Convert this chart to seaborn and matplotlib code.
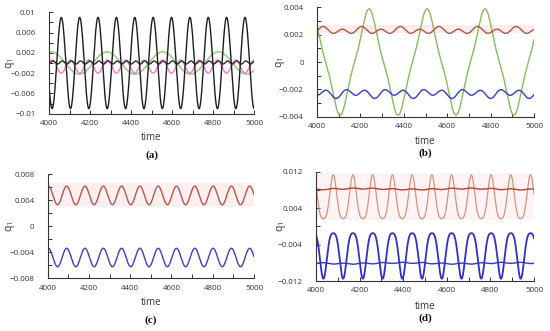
import numpy as np
import pandas as pd
import matplotlib
matplotlib.use("Agg")
import matplotlib.pyplot as plt
import seaborn as sns
from matplotlib.ticker import FixedLocator, FuncFormatter

# ---------------- data ----------------
# every curve: mean + sum_k amp_k * cos(2*pi*(t - t0_k)/period_k)
time_start, time_end = 4000, 5000
x_major = [4000, 4200, 4400, 4600, 4800, 5000]
x_minor = [4100, 4300, 4500, 4700, 4900]

# panel (a)
a_names = ["green", "pink", "dark", "black"]
a_mean = [0.0, -0.0007, 0.0001, 0.0]
a_amp = [[0.0022], [0.0013], [0.0003], [0.009]]
a_period = [[272], [89.6], [44.8], [89.6]]
a_t0 = [[4011], [4015], [4020], [4060]]
a_yticks = [-0.01, -0.006, -0.002, 0.002, 0.006, 0.01]
a_yminor = [-0.008, -0.004, 0.0, 0.004, 0.008]

# panel (b)
b_names = ["green", "red", "blue"]
b_mean = [0.0, 0.0023, -0.0023]
b_amp = [[0.0035, 0.00039], [0.0002, 0.0001], [0.00025, 0.00012]]
b_period = [[267, 89], [89, 178], [89, 178]]
b_t0 = [[4240, 4240], [4028, 4028], [4133, 4172]]
b_yticks = [-0.004, -0.002, 0.0, 0.002, 0.004]
b_yminor = [-0.003, -0.001, 0.001, 0.003]

# panel (c)
c_names = ["red", "blue"]
c_mean = [0.00475, -0.0048]
c_amp = [[0.00143], [0.00142]]
c_period = [[88.7], [88.7]]
c_t0 = [[4092], [4092]]
c_yticks = [-0.008, -0.004, 0.0, 0.004, 0.008]
c_yminor = [-0.006, -0.002, 0.002, 0.006]

# panel (d)
d_names = ["orange", "red", "blue", "blueflat"]
d_mean = [0.00554, 0.0082, -0.0055, -0.0081]
d_amp = [[0.0048, 0.00096], [0.00012, 0.0001], [-0.005, -0.001], [0.00012, 0.0001]]
d_period = [[90.5, 45.25], [90.5, 500], [90.5, 45.25], [90.5, 500]]
d_t0 = [[4079, 4079], [4079, 4200], [4034, 4034], [4034, 4400]]
d_yticks = [-0.012, -0.004, 0.004, 0.012]
d_yminor = [-0.008, 0.0, 0.008]

# ---------------- styles ----------------
a_colors = {"green": "#a6ca8e", "pink": "#f07ac8", "dark": "#2a2a2a", "black": "#1e1e1e"}
a_lw = {"green": 1.2, "pink": 1.0, "dark": 1.0, "black": 1.0}
b_colors = {"green": "#86bd5c", "red": "#a85a3e", "blue": "#3a3acc"}
b_lw = {"green": 1.0, "red": 1.0, "blue": 1.0}
c_colors = {"red": "#b05a42", "blue": "#3c3cd0"}
c_lw = {"red": 1.0, "blue": 1.0}
d_colors = {"orange": "#d4937a", "red": "#bf3e2e", "blue": "#2f2fcc", "blueflat": "#3535cc"}
d_lw = {"orange": 0.9, "red": 1.0, "blue": 1.3, "blueflat": 1.0}

sns.set_theme(style="white")
plt.rcParams["font.family"] = ["Open Sans", "DejaVu Sans"]
plt.rcParams["mathtext.default"] = "regular"
plt.rcParams["axes.unicode_minus"] = True

fig = plt.figure(figsize=(5.5, 3.31), dpi=100)

t = np.linspace(time_start, time_end, 3001)


def build_frame(names, means, amps, periods, t0s):
    rows = []
    for n, m, A, P, T in zip(names, means, amps, periods, t0s):
        y = np.full_like(t, m)
        for a, p, t0 in zip(A, P, T):
            y = y + a * np.cos(2 * np.pi * (t - t0) / p)
        rows.append(pd.DataFrame({"time": t, "q": y, "series": n}))
    return pd.concat(rows, ignore_index=True)


def fmt(v, pos):
    s = f"{round(v, 6):g}"
    return s.replace("-", "\u2212")


def style_axes(ax, ylim, yt, ym, ylab_x, xlab_y, tag, tag_y):
    ax.set_xlim(time_start, time_end)
    ax.set_ylim(*ylim)
    ax.xaxis.set_major_locator(FixedLocator(x_major))
    ax.xaxis.set_minor_locator(FixedLocator(x_minor))
    ax.yaxis.set_major_locator(FixedLocator(yt))
    ax.yaxis.set_minor_locator(FixedLocator(ym))
    ax.yaxis.set_major_formatter(FuncFormatter(fmt))
    ax.xaxis.set_major_formatter(FuncFormatter(lambda v, p: f"{int(round(v))}"))
    for s in ["top", "right"]:
        ax.spines[s].set_visible(False)
    for s in ["left", "bottom"]:
        ax.spines[s].set_color("#333333")
        ax.spines[s].set_linewidth(0.8)
    ax.tick_params(axis="both", which="major", direction="in", length=3.2,
                   width=0.7, color="#333333", labelsize=5.8, labelcolor="#333333")
    ax.tick_params(axis="both", which="minor", direction="in", length=3.0,
                   width=0.7, color="#333333")
    ax.tick_params(axis="y", which="major", pad=9.5, left=True)
    ax.tick_params(axis="y", which="minor", left=True)
    ax.tick_params(axis="x", which="major", pad=4.5, bottom=True)
    ax.tick_params(axis="x", which="minor", bottom=True)
    ax.set_xlabel("time", fontsize=7, color="#333333", va="center")
    ax.xaxis.set_label_coords(0.5, xlab_y)
    ax.set_ylabel("q$_1$", fontsize=7.5, color="#333333", va="center")
    ax.yaxis.set_label_coords(ylab_x, 0.5)
    ax.text(0.5, tag_y, tag, transform=ax.transAxes, ha="center", va="center",
            fontsize=8, fontweight="bold", family="Liberation Serif", color="#111111")
    ax.grid(False)


def draw(ax, df, names, colors, lws):
    for n in names:
        sub = df[df["series"] == n]
        sns.lineplot(data=sub, x="time", y="q", ax=ax, color=colors[n],
                     linewidth=lws[n], estimator=None, sort=False, legend=False)


# panel (a)
ax_a = fig.add_axes([49 / 550, 1 - 113.7 / 331, 205 / 550, 101.4 / 331])
df_a = build_frame(a_names, a_mean, a_amp, a_period, a_t0)
draw(ax_a, df_a, a_names, a_colors, a_lw)
style_axes(ax_a, (-0.01, 0.01), a_yticks, a_yminor, -0.19, -0.23, "(a)", -0.41)

# panel (b)
ax_b = fig.add_axes([317 / 550, 1 - 116.7 / 331, 217 / 550, 109.4 / 331])
ax_b.axhspan(0.0021, 0.0027, color="#fcecef", zorder=0, lw=0)
df_b = build_frame(b_names, b_mean, b_amp, b_period, b_t0)
draw(ax_b, df_b, b_names, b_colors, b_lw)
style_axes(ax_b, (-0.004, 0.004), b_yticks, b_yminor, -0.17, -0.23, "(b)", -0.33)

# panel (c)
ax_c = fig.add_axes([47.7 / 550, 1 - 278.3 / 331, 206.3 / 550, 104 / 331])
ax_c.axhspan(0.003, 0.0066, color="#fdeff1", zorder=0, lw=0)
df_c = build_frame(c_names, c_mean, c_amp, c_period, c_t0)
draw(ax_c, df_c, c_names, c_colors, c_lw)
style_axes(ax_c, (-0.008, 0.008), c_yticks, c_yminor, -0.18, -0.23, "(c)", -0.40)

# panel (d)
ax_d = fig.add_axes([316 / 550, 1 - 281 / 331, 218 / 550, 109.3 / 331])
ax_d.axhspan(0.0015, 0.0118, color="#fdf3f5", zorder=0, lw=0)
df_d = build_frame(d_names, d_mean, d_amp, d_period, d_t0)
draw(ax_d, df_d, d_names, d_colors, d_lw)
style_axes(ax_d, (-0.012, 0.012), d_yticks, d_yminor, -0.16, -0.23, "(d)", -0.34)

fig.savefig("out.png", dpi=100)
